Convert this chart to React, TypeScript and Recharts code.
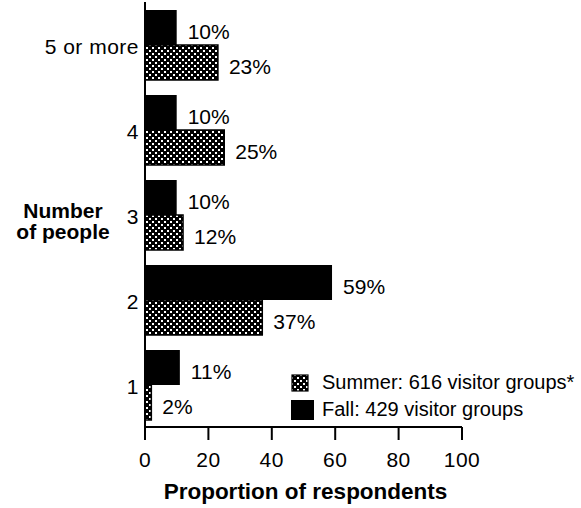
import React from 'react';
import { BarChart, Bar, XAxis, YAxis, LabelList, Legend } from 'recharts';

const categories = ['5 or more', '4', '3', '2', '1'];
const fallValues = [10, 10, 10, 59, 11];
const summerValues = [23, 25, 12, 37, 2];
const xTicks = [0, 20, 40, 60, 80, 100];
const fallLegend = 'Fall: 429 visitor groups';
const summerLegend = 'Summer: 616 visitor groups*';
const xTitle = 'Proportion of respondents';
const yTitleLines = ['Number', 'of people'];

const FONT = '"Liberation Sans", Arial, Helvetica, sans-serif';

const data = categories.map((c, i) => ({ category: c, fall: fallValues[i], summer: summerValues[i] }));

const renderBarLabel = (props: any) => {
  const { x, y, width, height, value } = props;
  return (
    <text
      x={Number(x) + Number(width) + 11}
      y={Number(y) + Number(height) / 2 + 4}
      dy="0.36em"
      fontSize={21}
      fontFamily={FONT}
      fill="#000"
      textAnchor="start"
    >
      {value}%
    </text>
  );
};

const YTick = (props: any) => {
  const { x, y, payload } = props;
  return (
    <text x={x} y={y + 2} dy="0.36em" textAnchor="end" fontSize={21} fontFamily={FONT} fill="#000" letterSpacing={0.5}>
      {payload.value}
    </text>
  );
};

const XTick = (props: any) => {
  const { x, y, payload } = props;
  return (
    <text x={x} y={y} dy="0.72em" textAnchor="middle" fontSize={21} fontFamily={FONT} fill="#000" letterSpacing={0.5}>
      {payload.value}
    </text>
  );
};

const XTitle = (props: any) => {
  const vb = props.viewBox || {};
  return (
    <text
      x={vb.x + vb.width / 2 + 2}
      y={vb.y + vb.height - 9}
      textAnchor="middle"
      fontSize={22.5}
      fontWeight="bold"
      fontFamily={FONT}
      fill="#000"
    >
      {xTitle}
    </text>
  );
};

const YTitle = (props: any) => {
  const vb = props.viewBox || {};
  const cx = vb.x + 63;
  const cy = vb.y + vb.height / 2;
  return (
    <g>
      {yTitleLines.map((t, i) => (
        <text
          key={t}
          x={cx}
          y={cy + 3 + i * 21}
          textAnchor="middle"
          fontSize={21}
          fontWeight="bold"
          fontFamily={FONT}
          fill="#000"
        >
          {t}
        </text>
      ))}
    </g>
  );
};

const HATCH_PATH = 'M-2,-2 L8,8 M-2,4 L2,8 M4,-2 L8,2 M-2,8 L8,-2 M-2,2 L2,-2 M4,8 L8,4';

const LegendContent = () => (
  <div style={{ fontFamily: FONT, fontSize: 20, color: '#000', lineHeight: '27px' }}>
    <div style={{ display: 'flex', alignItems: 'center', height: 27 }}>
      <svg width={31} height={20} style={{ display: 'block' }}>
        <defs>
          <pattern id="xhatchLegend" x={1} y={2} width={6} height={6} patternUnits="userSpaceOnUse">
            <rect width={6} height={6} fill="#fff" />
            <path d={HATCH_PATH} stroke="#000" strokeWidth={1.6} shapeRendering="crispEdges" />
          </pattern>
        </defs>
        <rect x={1} y={2} width={16} height={16} fill="url(#xhatchLegend)" stroke="#000" strokeWidth={1.2} />
      </svg>
      <span>{summerLegend}</span>
    </div>
    <div style={{ display: 'flex', alignItems: 'center', height: 27 }}>
      <svg width={31} height={22} style={{ display: 'block' }}>
        <rect x={0} y={1} width={23} height={20} fill="#000" />
      </svg>
      <span>{fallLegend}</span>
    </div>
  </div>
);

export default function App() {
  return (
    <div style={{ position: 'absolute', left: 0, top: 0, width: 581, height: 508, background: '#fff' }}>
      <BarChart
        width={581}
        height={508}
        data={data}
        layout="vertical"
        margin={{ top: 2, right: 119, left: 0, bottom: 0 }}
        barGap={0}
      >
        <defs>
          <pattern id="xhatch" width={6} height={6} patternUnits="userSpaceOnUse">
            <rect width={6} height={6} fill="#fff" />
            <path d={HATCH_PATH} stroke="#000" strokeWidth={1.6} shapeRendering="crispEdges" />
          </pattern>
        </defs>
        <XAxis
          type="number"
          domain={[0, 100]}
          ticks={xTicks}
          height={81}
          tickSize={13}
          tickMargin={12}
          axisLine={{ stroke: '#000', strokeWidth: 2 }}
          tickLine={{ stroke: '#000', strokeWidth: 2 }}
          tick={<XTick />}
          label={<XTitle />}
          interval={0}
        />
        <YAxis
          type="category"
          dataKey="category"
          width={145}
          tickSize={0}
          tickMargin={6}
          tickLine={false}
          axisLine={{ stroke: '#000', strokeWidth: 2 }}
          tick={<YTick />}
          label={<YTitle />}
          interval={0}
        />
        <Legend
          layout="vertical"
          align="center"
          verticalAlign="middle"
          content={<LegendContent />}
          wrapperStyle={{ position: 'absolute', left: 291, top: 369, width: 290 }}
        />
        <Bar dataKey="fall" fill="#000" barSize={35} isAnimationActive={false}>
          <LabelList dataKey="fall" content={renderBarLabel} />
        </Bar>
        <Bar dataKey="summer" fill="url(#xhatch)" stroke="#000" strokeWidth={1.5} barSize={35} isAnimationActive={false}>
          <LabelList dataKey="summer" content={renderBarLabel} />
        </Bar>
      </BarChart>
    </div>
  );
}
